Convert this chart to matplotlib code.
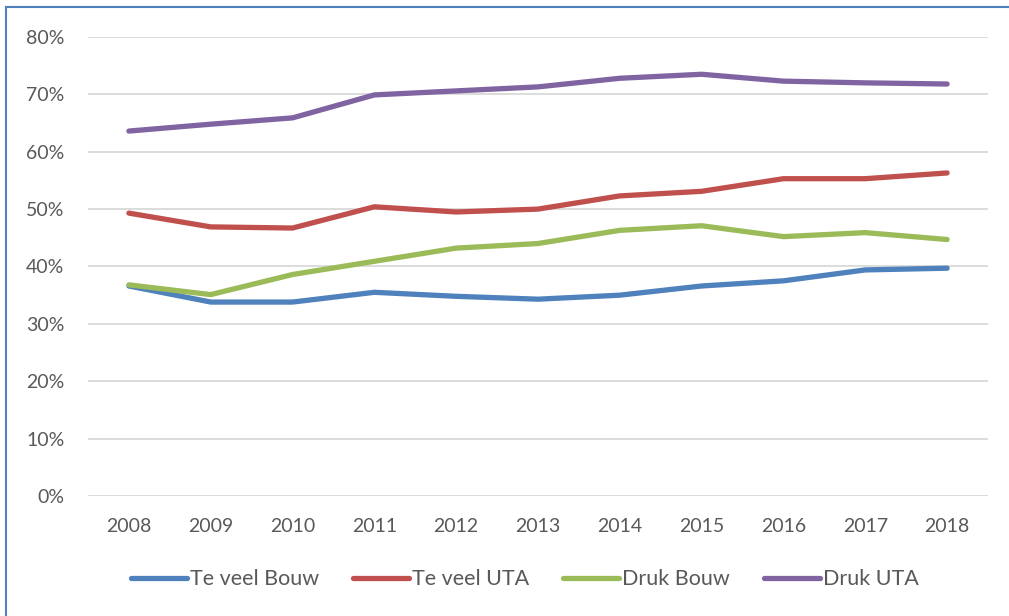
import matplotlib.pyplot as plt
from matplotlib.ticker import PercentFormatter
from matplotlib.lines import Line2D

plt.rcParams['font.family'] = ['Lato', 'DejaVu Sans']

years = [2008, 2009, 2010, 2011, 2012, 2013, 2014, 2015, 2016, 2017, 2018]
te_veel_bouw = [36.6, 33.8, 33.8, 35.5, 34.8, 34.3, 35.0, 36.6, 37.5, 39.4, 39.7]
te_veel_uta = [49.3, 46.9, 46.7, 50.4, 49.5, 50.0, 52.3, 53.1, 55.3, 55.3, 56.3]
druk_bouw = [36.8, 35.1, 38.6, 40.9, 43.2, 44.0, 46.3, 47.1, 45.2, 45.9, 44.7]
druk_uta = [63.6, 64.8, 65.9, 69.9, 70.6, 71.3, 72.8, 73.5, 72.3, 72.0, 71.8]

labels = ['Te veel Bouw', 'Te veel UTA', 'Druk Bouw', 'Druk UTA']
colors = ['#4F81BD', '#C0504D', '#9BBB59', '#8064A2']
series = [te_veel_bouw, te_veel_uta, druk_bouw, druk_uta]

fig = plt.figure(figsize=(10.09, 6.16), dpi=100)
ax = fig.add_axes([0.0872, 0.1948, 0.8920, 0.7452])

x = list(range(len(years)))
for vals, c, lab in zip(series, colors, labels):
    ax.plot(x, vals, color=c, lw=3.8, solid_capstyle='round', label=lab)

ax.set_xlim(-0.5, len(years) - 0.5)
ax.set_ylim(0, 80)
ax.set_yticks(range(0, 81, 10))
ax.yaxis.set_major_formatter(PercentFormatter(decimals=0))
ax.set_xticks(x)
ax.set_xticklabels([str(y) for y in years])
ax.grid(axis='y', color='#D9D9D9', lw=1.3)
ax.set_axisbelow(True)
for s in ax.spines.values():
    s.set_visible(False)
ax.tick_params(length=0, labelsize=14, colors='#595959')
ax.tick_params(axis='y', pad=17)
ax.tick_params(axis='x', pad=16)

handles = [Line2D([0], [0], color=c, lw=3.8, solid_capstyle='round') for c in colors]
fig.legend(handles, labels, loc='center', bbox_to_anchor=(0.52, 0.06), ncol=4,
           frameon=False, fontsize=15.5, labelcolor='#595959', handlelength=2.6,
           handletextpad=0.12, columnspacing=1.6)

# chart border
fig.add_artist(Line2D([0.006, 0.006], [0, 0.989], color='#4F81BD', lw=1.5, transform=fig.transFigure))
fig.add_artist(Line2D([0.006, 1.0], [0.989, 0.989], color='#4F81BD', lw=1.5, transform=fig.transFigure))

fig.savefig('out.png', dpi=100)
